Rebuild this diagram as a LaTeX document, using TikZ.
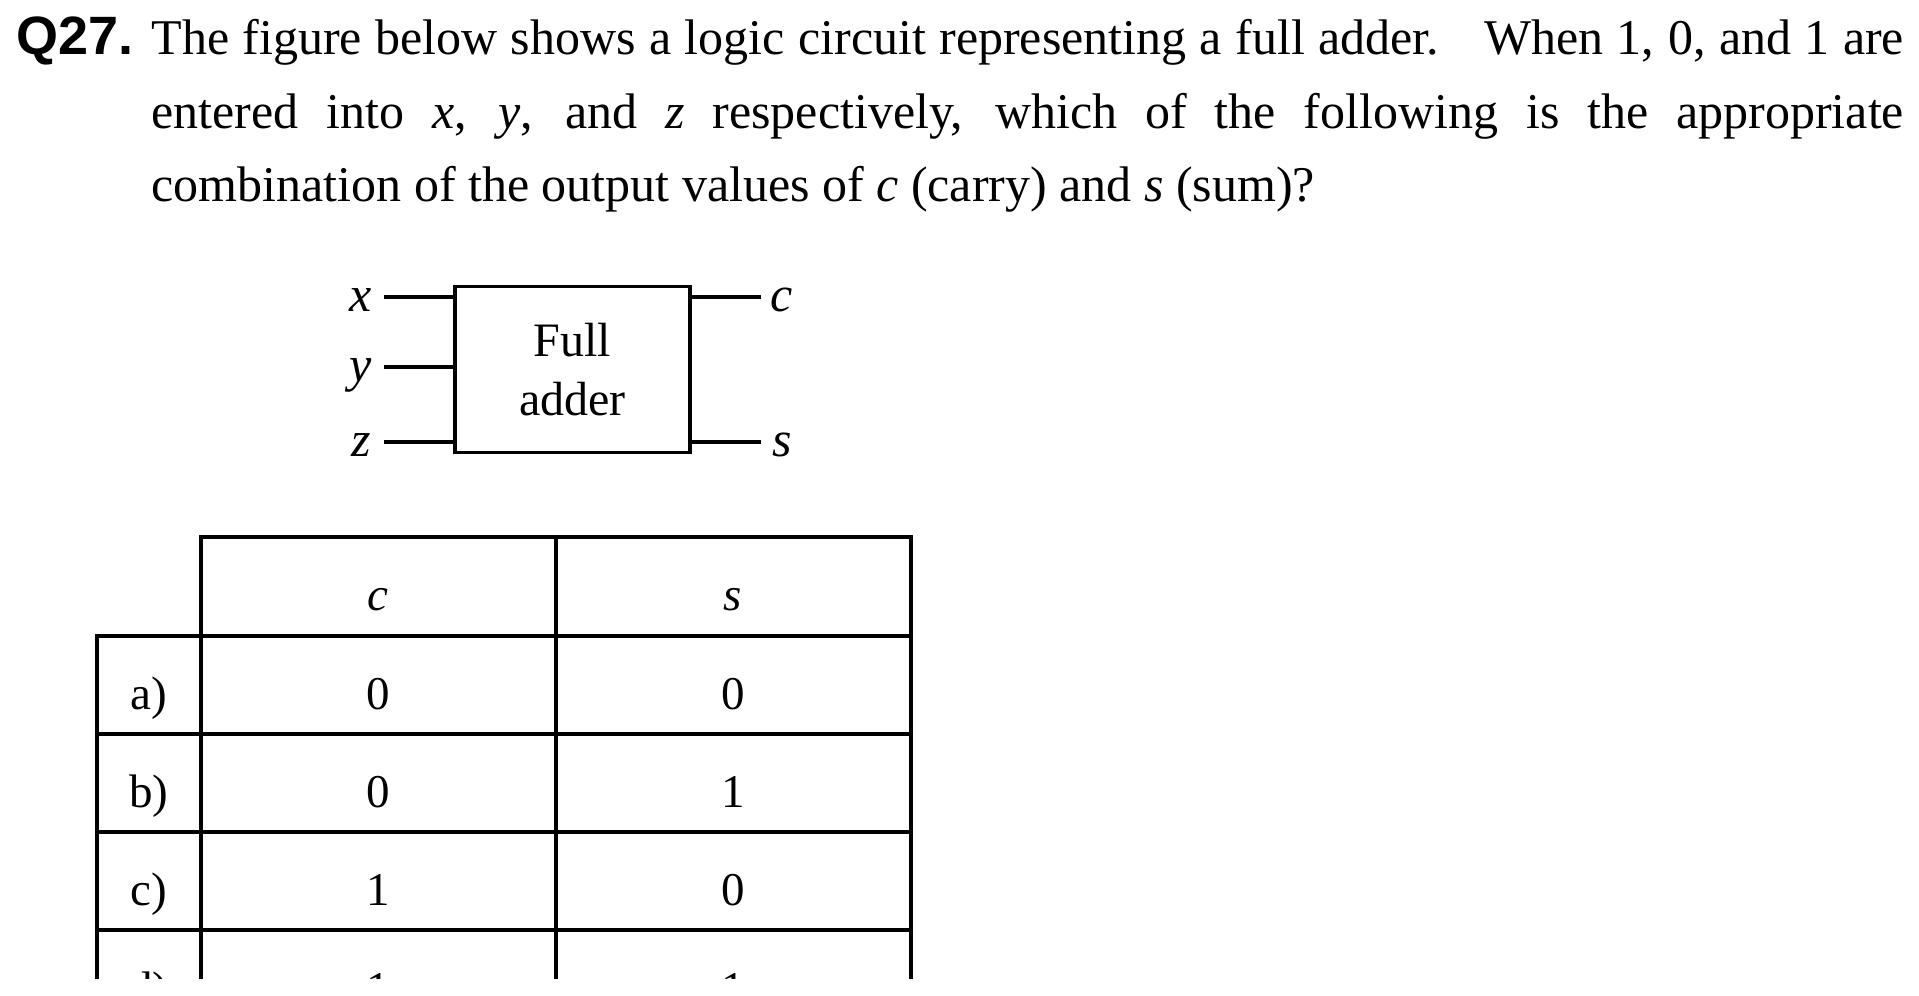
\documentclass[tikz,border=0pt]{standalone}
\usepackage{fontspec}
\setmainfont{Liberation Serif}
\newfontfamily\qfont{Liberation Sans}
\begin{document}
\begin{tikzpicture}[x=0.2pt,y=-0.2pt,
every node/.style={inner sep=0pt},
wire/.style={line width=0.65pt},
lab/.style={anchor=base,font=\fontsize{10}{12}\selectfont\itshape},
cell/.style={anchor=base,font=\fontsize{9.4}{11}\selectfont}
]
\useasboundingbox (0,0) rectangle (1919,996);
% question
\node[anchor=base west,font=\qfont\bfseries\fontsize{10.8}{13}\selectfont] (qnum) at (15,55) {Q27.};
\node[anchor=base west,text width=350.5pt,align=justify,
  font=\fontsize{10}{14.68}\selectfont] (qtext) at (150.5,55)
{The figure below shows a logic circuit representing a full adder.\hspace{0.9em}When 1, 0, and 1 are\linebreak
entered into \textit{x}, \textit{y}, and \textit{z} respectively, which of the following is the appropriate\linebreak
combination of the output values of \textit{c} (carry) and \textit{s} (sum)?};

% full adder block
\node[draw,line width=0.65pt,minimum width=47pt,minimum height=33.3pt,
  align=center,font=\fontsize{9.6}{11.8}\selectfont] (fa) at (572.5,369.6) {Full\\adder};
\foreach \n/\yy in {x/297,y/367,z/442}
{
  \coordinate (\n in) at (384,\yy);
  \node[lab] (\n) at (361,\yy+15) {\n};
  \draw[wire] (\n in) -- (\n in -| fa.west);
}
\foreach \n/\yy in {c/297,s/442}
{
  \coordinate (\n out) at (761,\yy);
  \node[lab] (\n) at (782,\yy+15) {\n};
  \draw[wire] (\n out -| fa.east) -- (\n out);
}

% answer table
\begin{scope}
  \clip (0,0) rectangle (1919,979);
  \draw[wire] (201,996) -- (201,537) -- (911,537) -- (911,996);
  \draw[wire] (556,537) -- (556,996);
  \draw[wire] (97,996) -- (97,636) -- (911,636);
  \foreach \r in {734,832,930}
    \draw[wire] (97,\r) -- (911,\r);
  \node[cell,font=\fontsize{9.4}{11}\selectfont\itshape] (hc) at (378,611) {c};
  \node[cell,font=\fontsize{9.4}{11}\selectfont\itshape] (hs) at (733,611) {s};
  \foreach \lab/\cv/\sv [count=\i] in {a/0/0,b/0/1,c/1/0,d/1/1}
  {
    \node[cell] (opt\lab) at (148.7,611+98.3*\i) {\lab)};
    \node[cell] (c\lab) at (378,611+98.3*\i) {\cv};
    \node[cell] (s\lab) at (733,611+98.3*\i) {\sv};
  }
\end{scope}
\end{tikzpicture}
\end{document}
